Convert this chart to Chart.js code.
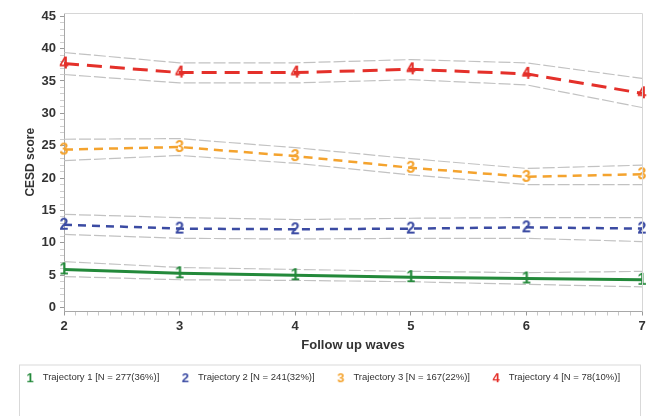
<!DOCTYPE html>
<html>
<head>
<meta charset="utf-8">
<script src="https://cdn.jsdelivr.net/npm/chart.js@4/dist/chart.umd.min.js"></script>
<style>
  html, body { margin: 0; padding: 0; background: #fff; }
  #wrap { width: 649px; height: 416px; }
</style>
</head>
<body>
<div id="wrap"><canvas id="myChart"></canvas></div>
<script>
const waves = [2, 3, 4, 5, 6, 7];

const traj1 = [5.9, 5.3, 5.0, 4.7, 4.5, 4.3];
const traj1Lo = [4.8, 4.3, 4.2, 4.0, 3.6, 3.2];
const traj1Hi = [7.1, 6.2, 5.9, 5.6, 5.4, 5.6];

const traj2 = [12.8, 12.2, 12.1, 12.2, 12.4, 12.2];
const traj2Lo = [11.3, 10.7, 10.6, 10.7, 10.7, 10.2];
const traj2Hi = [14.4, 13.9, 13.6, 13.8, 13.9, 13.9];

const traj3 = [24.4, 24.8, 23.4, 21.6, 20.2, 20.6];
const traj3Lo = [22.7, 23.5, 22.3, 20.5, 19.0, 19.0];
const traj3Hi = [26.0, 26.1, 24.7, 23.0, 21.5, 22.0];

const traj4 = [37.7, 36.3, 36.3, 36.8, 36.1, 33.1];
const traj4Lo = [36.0, 34.7, 34.7, 35.2, 34.4, 30.9];
const traj4Hi = [39.4, 37.8, 37.8, 38.3, 37.8, 35.4];

const labels = [
  'Trajectory 1 [N = 277(36%)]',
  'Trajectory 2 [N = 241(32%)]',
  'Trajectory 3 [N = 167(22%)]',
  'Trajectory 4 [N = 78(10%)]'
];
const colors = ['#23893a', '#3b4ba3', '#f4a32e', '#e4302a'];
const dashes = [[], [8, 6], [9, 6], [15, 8]];
const widths = [3, 2.5, 2.5, 3];

const fontFam = "'Liberation Sans', Arial, sans-serif";

function marker(digit, color, size) {
  const c = document.createElement('canvas');
  c.width = Math.round(size * 0.9);
  c.height = Math.round(size * 1.1);
  const g = c.getContext('2d');
  g.fillStyle = color;
  g.font = 'bold ' + size + 'px ' + fontFam;
  g.textAlign = 'center';
  g.textBaseline = 'middle';
  g.fillText(digit, c.width / 2, c.height / 2 + 1);
  return c;
}

function pts(vals) {
  return waves.map((w, i) => ({ x: w, y: vals[i] }));
}

function isMult(v, m) {
  return Math.abs(v - m * Math.round(v / m)) < 1e-6;
}

const mains = [traj1, traj2, traj3, traj4];
const bands = [[traj1Lo, traj1Hi], [traj2Lo, traj2Hi], [traj3Lo, traj3Hi], [traj4Lo, traj4Hi]];
const bigMarks = colors.map((c, i) => marker(String(i + 1), c, 16));
const smallMarks = colors.map((c, i) => marker(String(i + 1), c, 13));

const datasets = [];
mains.forEach((vals, i) => {
  datasets.push({
    label: labels[i],
    data: pts(vals),
    borderColor: colors[i],
    backgroundColor: colors[i],
    borderWidth: widths[i],
    borderDash: dashes[i],
    pointStyle: bigMarks[i],
    pointRadius: 4,
    tension: 0,
    clip: false
  });
});
bands.forEach((pair) => {
  pair.forEach((vals) => {
    datasets.push({
      label: '',
      data: pts(vals),
      borderColor: '#c2c2c2',
      borderWidth: 1.2,
      borderDash: [12, 3],
      pointRadius: 0,
      tension: 0,
      isBand: true
    });
  });
});

// plot frame (top/right) and the box round the legend
const frame = {
  id: 'frame',
  afterDraw(chart) {
    const ctx = chart.ctx;
    const a = chart.chartArea;
    ctx.save();
    ctx.strokeStyle = '#d6d6d6';
    ctx.lineWidth = 1;
    ctx.beginPath();
    ctx.moveTo(a.left, a.top + 0.5);
    ctx.lineTo(a.right + 0.5, a.top + 0.5);
    ctx.lineTo(a.right + 0.5, a.bottom);
    ctx.stroke();
    const lg = chart.legend;
    ctx.strokeStyle = '#d9d9d9';
    ctx.strokeRect(19.5, lg.top + 10.5, 621, chart.height - lg.top - 10);
    ctx.restore();
  }
};

const ctx = document.getElementById('myChart').getContext('2d');
const myChart = new Chart(ctx, {
  type: 'line',
  data: { datasets: datasets },
  plugins: [frame],
  options: {
    responsive: true,
    maintainAspectRatio: false,
    animation: false,
    layout: { padding: { left: 0, right: 7, top: 13, bottom: 24 } },
    plugins: {
      tooltip: { enabled: false },
      legend: {
        position: 'bottom',
        labels: {
          usePointStyle: true,
          pointStyleWidth: 16,
          padding: 18,
          color: '#333',
          font: { family: fontFam, size: 9.5 },
          generateLabels(chart) {
            const items = Chart.defaults.plugins.legend.labels.generateLabels(chart);
            return items
              .filter((it) => !chart.data.datasets[it.datasetIndex].isBand)
              .map((it) => {
                it.pointStyle = smallMarks[it.datasetIndex];
                it.lineWidth = 0;
                return it;
              });
          }
        }
      }
    },
    scales: {
      x: {
        type: 'linear',
        min: 2,
        max: 7,
        afterFit(s) { s.height = 43; },
        ticks: {
          stepSize: 0.1,
          autoSkip: false,
          maxRotation: 0,
          padding: 3,
          color: '#333',
          font: { family: fontFam, size: 13, weight: 'bold' },
          callback(v) {
            return isMult(v, 1) ? String(Math.round(v)) : '';
          }
        },
        grid: {
          drawOnChartArea: false,
          tickLength: 4,
          color(c) {
            const v = c.tick ? c.tick.value : 0;
            return isMult(v, 1) ? '#9a9a9a' : '#c8c8c8';
          }
        },
        border: { color: '#a8a8a8' },
        title: {
          display: true,
          text: 'Follow up waves',
          color: '#333',
          font: { family: fontFam, size: 13, weight: 'bold' },
          padding: { top: 0, bottom: 1 }
        }
      },
      y: {
        min: -0.6,
        max: 45.5,
        afterFit(s) { s.width = 64; },
        ticks: {
          stepSize: 1,
          includeBounds: false,
          autoSkip: false,
          padding: 4,
          color: '#333',
          font: { family: fontFam, size: 13, weight: 'bold' },
          callback(v) {
            return isMult(v, 5) ? String(Math.round(v)) : '';
          }
        },
        grid: {
          drawOnChartArea: false,
          tickLength: 4,
          color(c) {
            const v = c.tick ? c.tick.value : 0;
            return isMult(v, 5) ? '#9a9a9a' : '#cfcfcf';
          }
        },
        border: { color: '#a8a8a8' },
        title: {
          display: true,
          text: 'CESD score',
          color: '#333',
          font: { family: fontFam, size: 12, weight: 'bold' },
          padding: { top: 23, bottom: 0 }
        }
      }
    }
  }
});
</script>
</body>
</html>
